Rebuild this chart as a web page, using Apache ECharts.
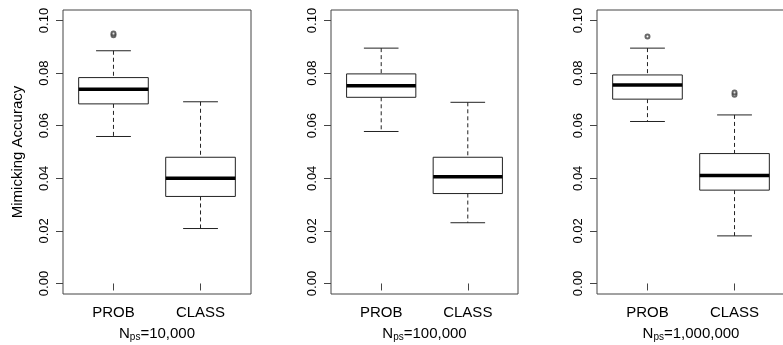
<!DOCTYPE html>
<html>
<head>
<meta charset="utf-8">
<script src="https://cdn.jsdelivr.net/npm/echarts@6/dist/echarts.min.js"></script>
<style>
  html, body { margin: 0; padding: 0; background: #fff; }
  #chart { width: 783px; height: 345px; }
</style>
</head>
<body>
<div id="chart"></div>
<script>
// groups on each x axis
const groups = ['PROB', 'CLASS'];
// N_ps for each panel
const panelSizes = ['10,000', '100,000', '1,000,000'];
const yTicks = [0, 0.02, 0.04, 0.06, 0.08, 0.1];

// [lower whisker, Q1, median, Q3, upper whisker]
const probStats = [
	[0.0559, 0.0683, 0.0739, 0.0783, 0.0885],
	[0.0578, 0.0708, 0.0752, 0.0797, 0.0895],
	[0.0616, 0.0701, 0.0755, 0.0793, 0.0895]
];
const classStats = [
	[0.0209, 0.0331, 0.0400, 0.0480, 0.0691],
	[0.0231, 0.0342, 0.0406, 0.0480, 0.0689],
	[0.0181, 0.0355, 0.0411, 0.0494, 0.0641]
];
const probOutliers = [[0.0944, 0.0951], [], [0.0939]];
const classOutliers = [[], [], [0.0718, 0.0726]];

const gridLefts = [63, 331, 597];
const gridWidths = [188, 187, 188];
const ink = '#222';
const font = 'Liberation Sans, Arial, Helvetica, sans-serif';

function renderBox(params, api) {
	let x = api.value(0);
	let lo = api.coord([x, api.value(1)]);
	let q1 = api.coord([x, api.value(2)]);
	let med = api.coord([x, api.value(3)]);
	let q3 = api.coord([x, api.value(4)]);
	let hi = api.coord([x, api.value(5)]);
	let half = api.size([0.4, 0])[0];
	let cap = half / 2;
	let cx = lo[0];
	let thin = { stroke: ink, lineWidth: 1 };
	let dashed = { stroke: ink, lineWidth: 1, lineDash: [4, 3] };
	return {
		type: 'group',
		children: [
			{ type: 'line', shape: { x1: cx, y1: hi[1], x2: cx, y2: q3[1] }, style: dashed },
			{ type: 'line', shape: { x1: cx, y1: q1[1], x2: cx, y2: lo[1] }, style: dashed },
			{ type: 'line', shape: { x1: cx - cap, y1: hi[1], x2: cx + cap, y2: hi[1] }, style: thin },
			{ type: 'line', shape: { x1: cx - cap, y1: lo[1], x2: cx + cap, y2: lo[1] }, style: thin },
			{ type: 'rect', shape: { x: cx - half, y: q3[1], width: half * 2, height: q1[1] - q3[1] },
				style: { fill: '#fff', stroke: ink, lineWidth: 1 } },
			{ type: 'line', shape: { x1: cx - half, y1: med[1], x2: cx + half, y2: med[1] },
				style: { stroke: '#000', lineWidth: 3.5 } }
		]
	};
}

let grids = [], xAxes = [], yAxes = [], series = [];
for (let i = 0; i < 3; i++) {
	grids.push({
		left: gridLefts[i], top: 10, width: gridWidths[i], height: 284,
		containLabel: false, outerBoundsMode: 'none',
		show: true, borderColor: '#444', borderWidth: 1, backgroundColor: 'transparent'
	});
	xAxes.push({
		type: 'value', gridIndex: i, min: 0.42, max: 2.58,
		axisLine: { show: false },
		splitLine: { show: false },
		axisTick: { show: true, length: 7, customValues: [1, 2], lineStyle: { color: '#444' } },
		axisLabel: {
			customValues: [1, 2], margin: 11, fontSize: 15, fontFamily: font, color: '#000',
			formatter: v => groups[Math.round(v) - 1]
		},
		name: '{n|N}{s|ps}{n|=' + panelSizes[i] + '}',
		nameLocation: 'middle', nameGap: 31,
		nameTextStyle: {
			rich: {
				n: { fontSize: 15, fontFamily: font, color: '#000' },
				s: { fontSize: 10, fontFamily: font, color: '#000', padding: [7, 0, 0, 0] }
			}
		}
	});
	yAxes.push({
		type: 'value', gridIndex: i, min: -0.004, max: 0.104,
		axisLine: { show: false },
		splitLine: { show: false },
		axisTick: { show: true, length: 7, customValues: yTicks, lineStyle: { color: '#444' } },
		axisLabel: {
			customValues: yTicks, rotate: 90, margin: 12, fontSize: 13, fontFamily: font, color: '#000',
			formatter: v => v.toFixed(2)
		},
		name: i === 0 ? 'Mimicking Accuracy' : '',
		nameLocation: 'middle', nameGap: 38, nameRotate: 90,
		nameTextStyle: { fontSize: 15, fontFamily: font, color: '#000' }
	});
	series.push({
		type: 'custom', xAxisIndex: i, yAxisIndex: i,
		renderItem: renderBox,
		encode: { x: 0, y: [1, 2, 3, 4, 5] },
		data: [[1].concat(probStats[i]), [2].concat(classStats[i])],
		silent: true
	});
	let pts = probOutliers[i].map(v => [1, v]).concat(classOutliers[i].map(v => [2, v]));
	series.push({
		type: 'scatter', xAxisIndex: i, yAxisIndex: i,
		symbol: 'emptyCircle', symbolSize: 4,
		itemStyle: { color: '#444', borderColor: '#444', borderWidth: 0.6 },
		data: pts, silent: true, z: 5
	});
}

let dom = document.getElementById('chart');
let myChart = echarts.init(dom);
myChart.setOption({
	animation: false,
	backgroundColor: '#fff',
	grid: grids,
	xAxis: xAxes,
	yAxis: yAxes,
	series: series
});
</script>
</body>
</html>
